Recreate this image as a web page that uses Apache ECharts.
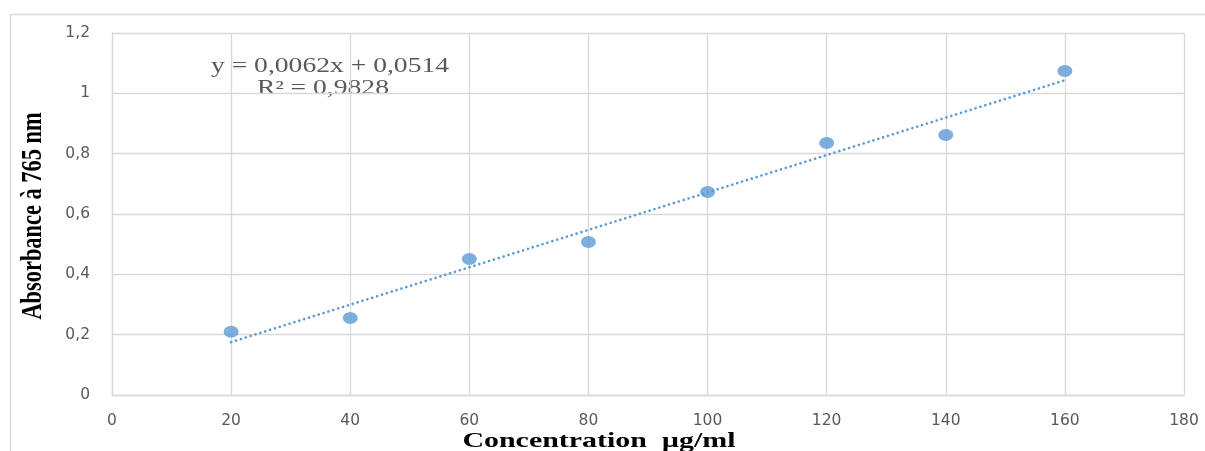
<!DOCTYPE html>
<html>
<head>
<meta charset="utf-8">
<script src="https://cdn.jsdelivr.net/npm/echarts@6/dist/echarts.min.js"></script>
<style>html,body{margin:0;padding:0;background:#fff;}#c{width:1205px;height:451px;}</style>
</head>
<body>
<div id="c"></div>
<script>
// Data
var concentrations = [20, 40, 60, 80, 100, 120, 140, 160];
var absorbances = [0.21, 0.255, 0.451, 0.507, 0.673, 0.835, 0.862, 1.074];
var trendSlope = 0.0062;
var trendIntercept = 0.0514;
var equationText = 'y = 0,0062x + 0,0514';
var r2Text = 'R² = 0,9828';
var xTitle = 'Concentration  µg/ml';
var yTitle = 'Absorbance à 765 nm';

var points = concentrations.map(function (c, i) { return [c, absorbances[i]]; });
var xFirst = concentrations[0], xLast = concentrations[concentrations.length - 1];
var trend = [[xFirst, trendSlope * xFirst + trendIntercept], [xLast, trendSlope * xLast + trendIntercept]];

function fmt(v) { return String(Math.round(v * 10) / 10).replace('.', ','); }

var chart = echarts.init(document.getElementById('c'), null, { renderer: 'canvas' });
var gridColor = '#d9d9d9';
var labelColor = '#595959';
chart.setOption({
  animation: false,
  backgroundColor: '#ffffff',
  grid: { left: 112, right: 21, top: 33, bottom: 56, containLabel: false },
  xAxis: {
    type: 'value', min: 0, max: 180, interval: 20,
    axisLine: { show: true, lineStyle: { color: gridColor, width: 1.3 } },
    axisTick: { show: false },
    splitLine: { show: true, lineStyle: { color: gridColor, width: 1.3 } },
    axisLabel: { color: labelColor, fontFamily: 'DejaVu Sans', fontSize: 15.5, margin: 18, formatter: fmt }
  },
  yAxis: {
    type: 'value', min: 0, max: 1.2, interval: 0.2,
    axisLine: { show: true, lineStyle: { color: gridColor, width: 1.3 } },
    axisTick: { show: false },
    splitLine: { show: true, lineStyle: { color: gridColor, width: 1.3 } },
    axisLabel: { color: labelColor, fontFamily: 'DejaVu Sans', fontSize: 15.5, margin: 22, formatter: fmt }
  },
  series: [
    {
      type: 'line', data: trend, symbol: 'none', silent: true,
      lineStyle: { color: '#5b9bd5', width: 2.6, type: [0.1, 5], cap: 'round' },
      z: 2
    },
    {
      type: 'scatter', data: points, symbol: 'circle', symbolSize: [15, 12],
      itemStyle: { color: '#5b9bd5' }, z: 3
    }
  ],
  graphic: [
    { type: 'rect', left: 8, top: 12, shape: { x: 0, y: 0, width: 1260, height: 500 },
      style: { fill: 'none', stroke: gridColor, lineWidth: 1.5 }, silent: true, z: -1 },
    { type: 'text', x: 33, y: 216, rotation: Math.PI / 2, scaleX: 0.8, scaleY: 1.05,
      style: { text: yTitle, font: 'bold 28px "Liberation Serif"', fill: '#000', align: 'center', verticalAlign: 'middle' } },
    { type: 'text', x: 599, y: 441, scaleX: 1.36, scaleY: 1,
      style: { text: xTitle, font: 'bold 22px "Liberation Serif"', fill: '#000', align: 'center', verticalAlign: 'middle' } },
    { type: 'text', x: 330, y: 67, scaleX: 1.38, scaleY: 1,
      style: { text: equationText, font: '20px "Liberation Serif"', fill: labelColor, align: 'center', verticalAlign: 'middle' } },
    { type: 'text', x: 323, y: 89, scaleX: 1.38, scaleY: 1,
      style: { text: r2Text, font: '20px "Liberation Serif"', fill: labelColor, align: 'center', verticalAlign: 'middle' } }
  ]
});
</script>
</body>
</html>
